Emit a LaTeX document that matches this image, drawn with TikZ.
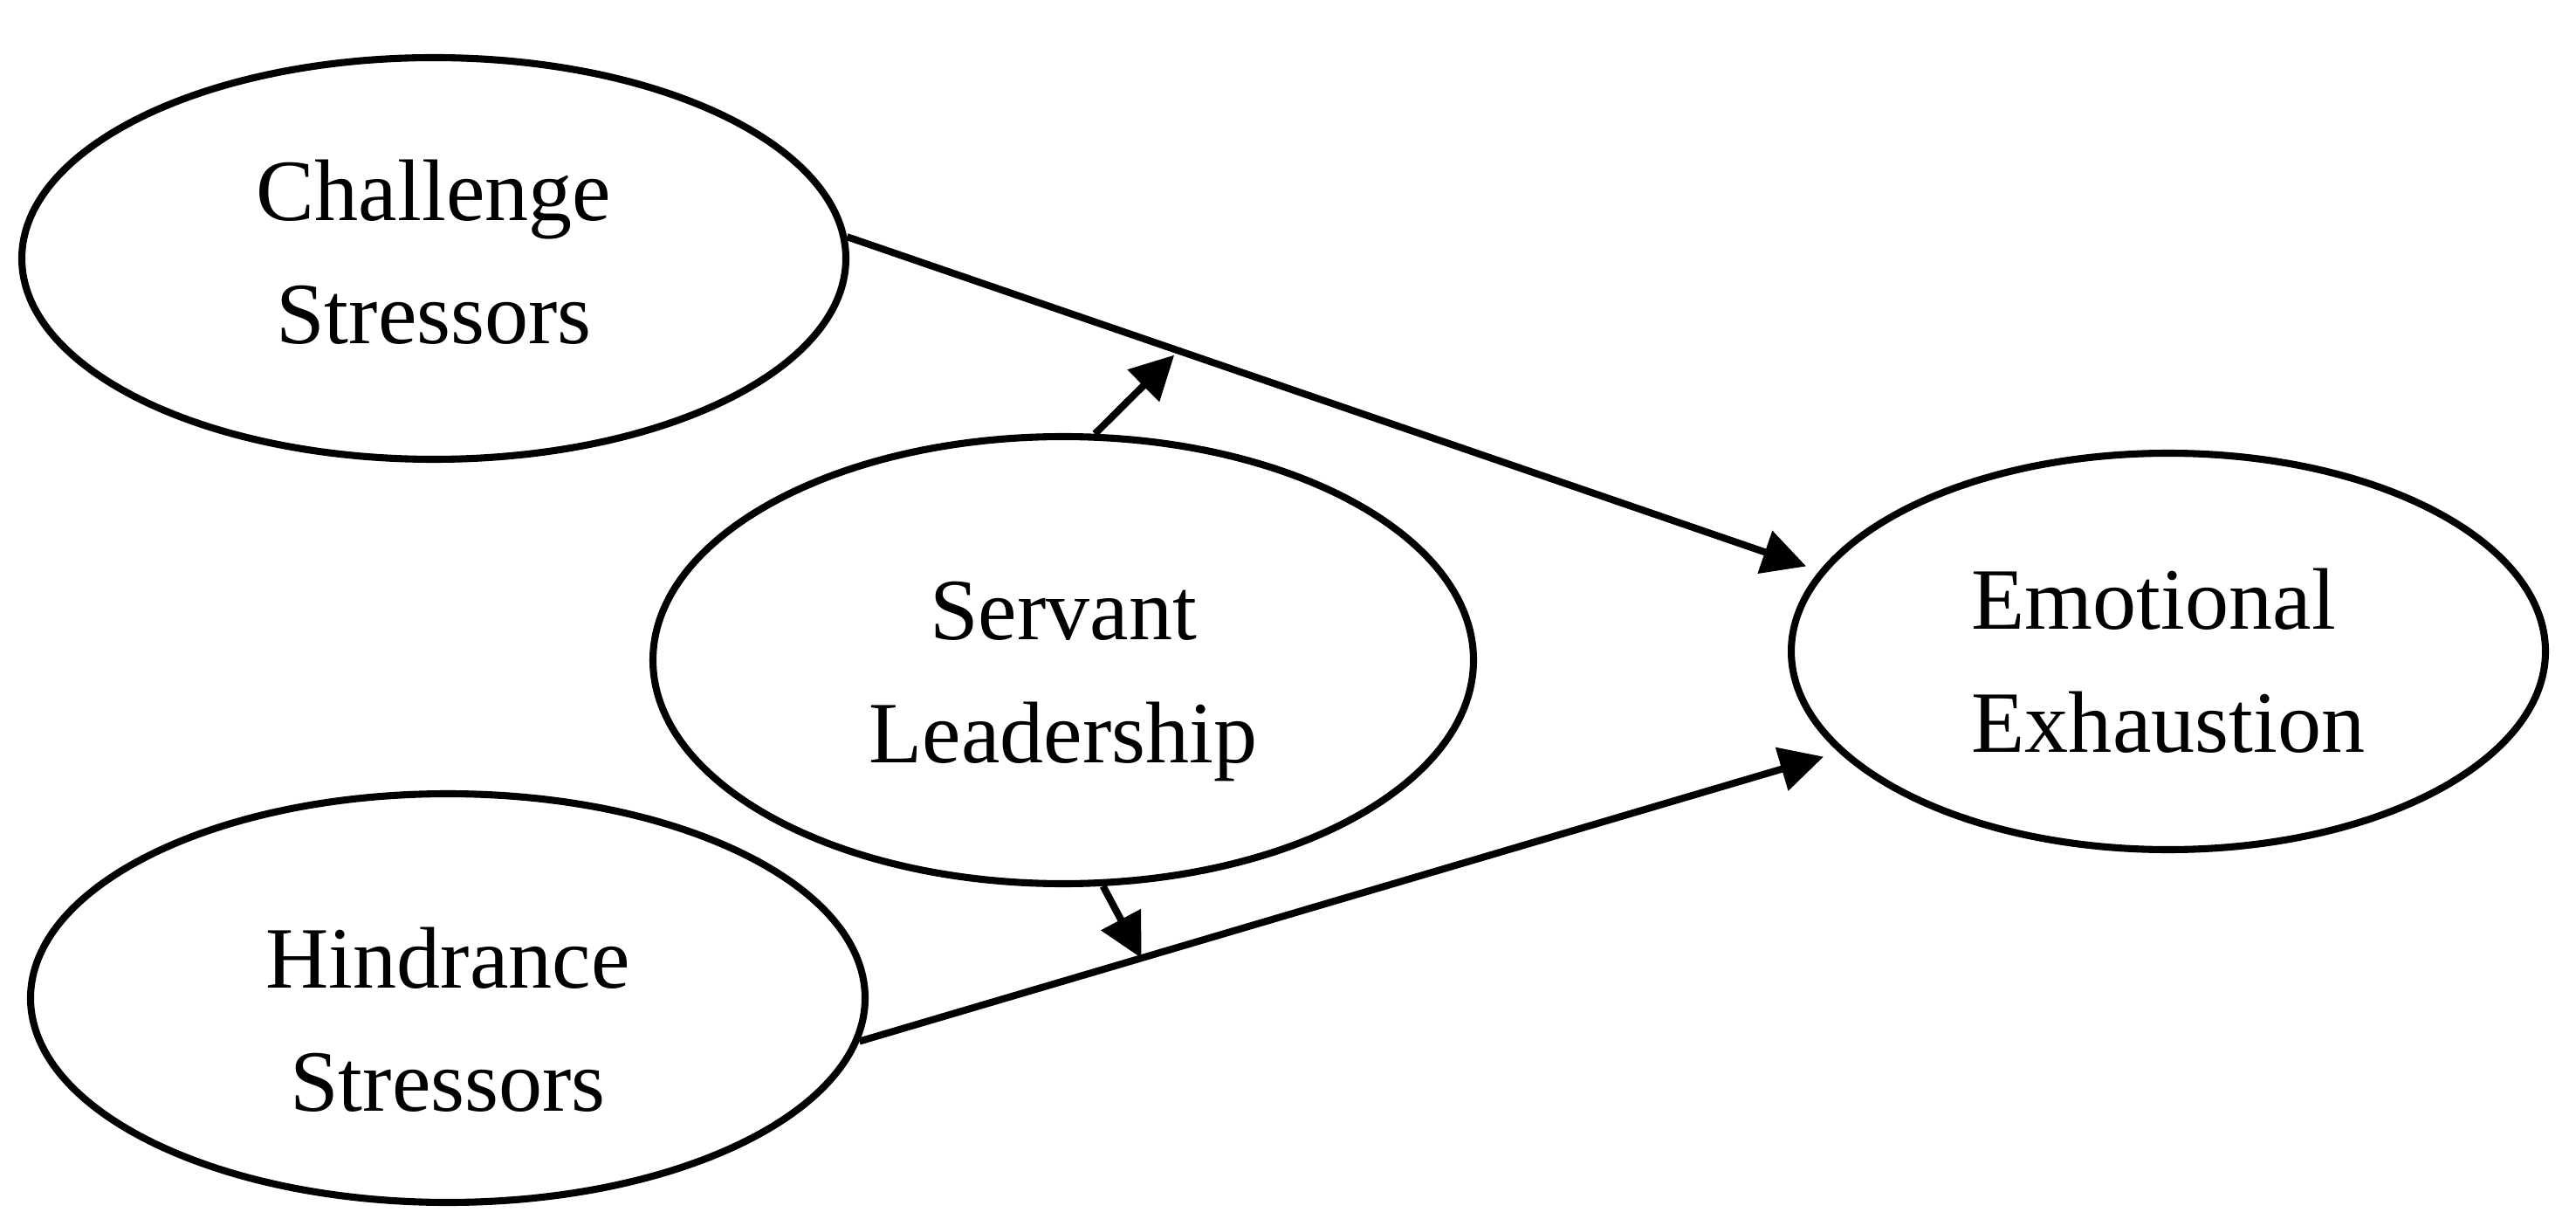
\documentclass[tikz,border=0pt]{standalone}
\usepackage{fontspec}
\setmainfont{Liberation Serif}
\usetikzlibrary{arrows.meta}
\usetikzlibrary{positioning, shapes.geometric}

\begin{document}
\begin{tikzpicture}[
    latent/.style={ellipse, draw, line width=2.3pt, inner sep=0pt, align=center,
        font=\fontsize{28.5}{40}\selectfont},
    effect/.style={line width=2.3pt, -{Triangle[length=0.5cm, width=0.5cm]}},
    on grid]
    \useasboundingbox (0,0) rectangle (29.51,-14.04);
    \node[latent, minimum width=9.44cm, minimum height=4.60cm, text height=55.8pt] (ch) at (4.97,-2.96) {Challenge\\Stressors};
    \node[latent, minimum width=9.56cm, minimum height=4.68cm, text height=74pt, below right=8.47cm and 0.16cm of ch] (hs) {Hindrance\\Stressors};
    \node[latent, minimum width=9.40cm, minimum height=5.12cm, text height=72.8pt, below right=4.60cm and 7.21cm of ch] (sl) {Servant\\Leadership};
    \node[latent, minimum width=8.64cm, minimum height=4.54cm, text height=66pt, align=left, above right=0.10cm and 12.66cm of sl] (ee) {Emotional\\Exhaustion};
    \draw[effect, shorten >=0.16cm] (ch.3) -- coordinate[pos=0.341] (up) (ee.167);
    \draw[effect, shorten >=0.18cm] (hs.-6) -- coordinate[pos=0.288] (down) (ee.197);
    \draw[effect, shorten >=2pt] (sl.82) -- (up);
    \draw[effect] (sl.-80) -- (down);
\end{tikzpicture}
\end{document}
